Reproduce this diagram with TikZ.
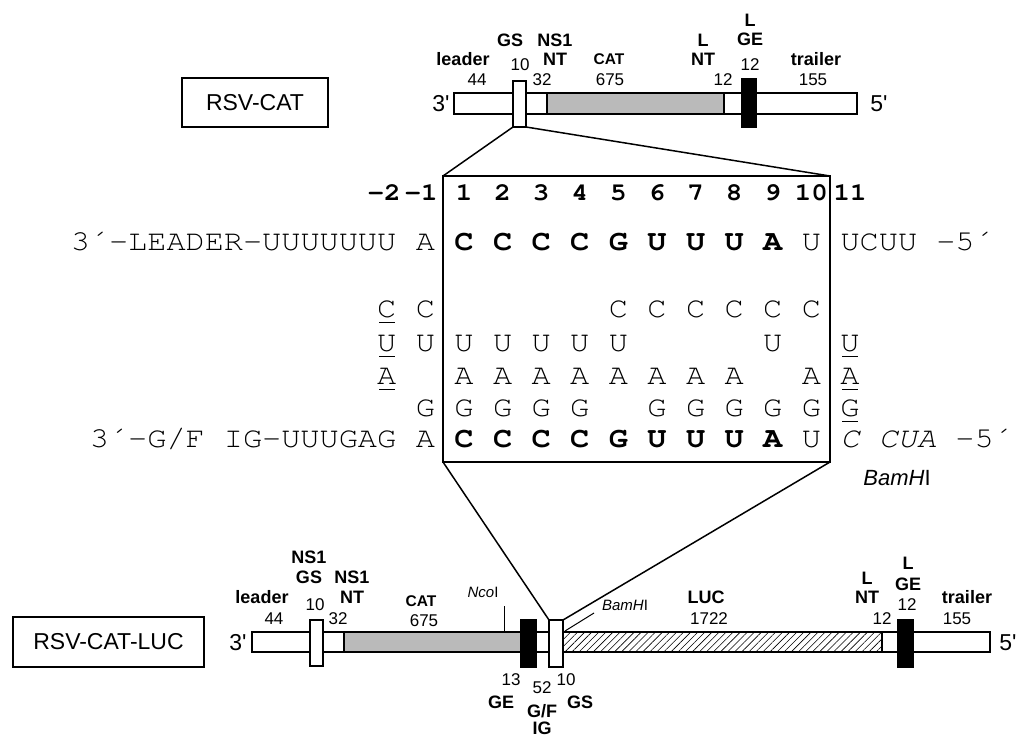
\documentclass[tikz,border=0pt]{standalone}
\usepackage{fontspec}
\setmainfont{Liberation Sans}[Ligatures=TeXOff]
\newfontfamily\seqf{TeX Gyre Cursor}[Ligatures=TeXOff, FakeStretch=1.1]
\usetikzlibrary{patterns.meta}
\tikzset{
 lab/.style={font=\bfseries\fontsize{18}{18}\selectfont, inner sep=0pt},
 labs/.style={font=\bfseries\fontsize{15.5}{16}\selectfont, inner sep=0pt},
 num/.style={font=\fontsize{17}{17}\selectfont, inner sep=0pt},
 primelab/.style={font=\fontsize{23}{23}\selectfont, inner sep=0pt},
 bigname/.style={draw, line width=1.2pt, font=\fontsize{23}{23}\selectfont, inner sep=0pt, outer sep=0pt},
 seqn/.style={font=\seqf\fontsize{29}{29}\selectfont, inner sep=0pt, text height=16.5pt, text depth=0pt},
 seqbold/.style={seqn, font=\seqf\bfseries\fontsize{29}{29}\selectfont},
 posn/.style={font=\seqf\bfseries\fontsize{25}{25}\selectfont, inner sep=0pt, text height=15pt, text depth=0pt},
 site/.style={font=\fontsize{15}{15}\selectfont, inner sep=0pt},
 bigsite/.style={font=\fontsize{22}{22}\selectfont, inner sep=0pt},
 bar/.style={draw, line width=1.1pt},
 gsbox/.style={draw, fill=white, line width=1.1pt, inner sep=0pt, outer sep=0pt},
 gebox/.style={draw, fill=black, line width=1.1pt, inner sep=0pt, outer sep=0pt},
 diag/.style={line width=1.5pt},
 uline/.style={line width=1.4pt},
 catfill/.style={fill=black!27},
 lucfill/.style={pattern={Lines[angle=45,distance=5pt,line width=0.6pt]}}
}
\begin{document}
\begin{tikzpicture}[x=1pt,y=-1pt]
\useasboundingbox (0,0) rectangle (1018,736);

% ---------------- top construct ----------------
\node[bigname, minimum width=146pt, minimum height=49pt] (rsvcat) at (255,102.5) {RSV-CAT};
\node[primelab] (t3) at (441,104) {3'};
\node[primelab] (t5) at (879,104) {5'};
\draw[bar] (454,93) rectangle (547,114);
\draw[bar, catfill] (547,93) rectangle (724,114);
\draw[bar] (724,93) rectangle (857,114);
\node[gsbox, minimum width=13pt, minimum height=46pt] (gsA) at (519.5,104) {};
\node[gebox, minimum width=14pt, minimum height=48pt] (geA) at (749,103) {};

\node[lab] (tleader) at (463,59) {leader};
\node[num] (t44) at (477,80) {44};
\node[lab] (tgs) at (510,40) {GS};
\node[num] (t10) at (520,65) {10};
\node[lab] (tns1) at (555,40) {NS1};
\node[lab] (tnt) at (555,59) {NT};
\node[num] (t32) at (542,80) {32};
\node[labs] (tcat) at (609,59) {CAT};
\node[num] (t675) at (610,80) {675};
\node[lab] (tl1) at (703,40) {L};
\node[lab] (tnt2) at (703,59) {NT};
\node[num] (t12a) at (723,80) {12};
\node[lab] (tl2) at (750,20) {L};
\node[lab] (tge) at (750,39) {GE};
\node[num] (t12b) at (750,65) {12};
\node[lab] (ttrailer) at (816,59) {trailer};
\node[num] (t155) at (813,80) {155};

% ---------------- sequence box ----------------
\node[draw, line width=1.4pt, minimum width=387pt, minimum height=286pt, inner sep=0pt, outer sep=0pt] (sbox) at (636.5,319) {};
\draw[diag] (gsA.south west) -- (sbox.north west);
\draw[diag] (gsA.south east) -- (sbox.north east);

% position numbers
\node[posn] (pm2) at (384,193) {-2};
\node[posn] (pm1) at (421,193) {-1};
\foreach \i in {1,...,11}
  \node[posn] (p\i) at ({464+(\i-1)*38.6},193) {\i};

% row 1
\node[seqn, anchor=east] (lead) at (396.4,242) {3´-LEADER-UUUUUUU};
\node[seqn] (r1m1) at (425.4,242) {A};
\foreach \b [count=\i] in {C,C,C,C,G,U,U,U,A}
  \node[seqbold] (r1b\i) at ({464+(\i-1)*38.6},242) {\b};
\node[seqn] (r1u10) at (811.4,242) {U};
\node[seqn, anchor=west] (r1end) at (840.4,242) {UCUU -5´};

% row C
\node[seqn] (rcm2) at (386.8,309) {C};
\node[seqn] (rcm1) at (425.4,309) {C};
\foreach \i in {5,...,10}
  \node[seqn] (rc\i) at ({464+(\i-1)*38.6},309) {C};
% row U
\node[seqn] (rum2) at (386.8,343) {U};
\node[seqn] (rum1) at (425.4,343) {U};
\foreach \i in {1,...,5,9}
  \node[seqn] (ru\i) at ({464+(\i-1)*38.6},343) {U};
\node[seqn] (ru11) at (850,343) {U};
% row A
\node[seqn] (ram2) at (386.8,376) {A};
\foreach \i in {1,...,8,10}
  \node[seqn] (ra\i) at ({464+(\i-1)*38.6},376) {A};
\node[seqn] (ra11) at (850,376) {A};
% row G
\node[seqn] (rgm1) at (425.4,408) {G};
\foreach \i in {1,2,3,4,6,7,8,9,10}
  \node[seqn] (rg\i) at ({464+(\i-1)*38.6},408) {G};
\node[seqn] (rg11) at (850,408) {G};

% underlines
\foreach \n in {rcm2,rum2,ram2,ru11,ra11,rg11}
  \draw[uline] ([xshift=2pt,yshift=-5pt]\n.south west) -- ([xshift=-2pt,yshift=-5pt]\n.south east);

% bottom row
\node[seqn, anchor=east] (gf) at (396.4,439) {3´-G/F IG-UUUGAG};
\node[seqn] (r2m1) at (425.4,439) {A};
\foreach \b [count=\i] in {C,C,C,C,G,U,U,U,A}
  \node[seqbold] (r2b\i) at ({464+(\i-1)*38.6},439) {\b};
\node[seqn] (r2u10) at (811.4,439) {U};
\node[seqn, anchor=west] (r2end) at (840.4,439) {{\itshape C CUA} -5´};
\node[bigsite] (bam1) at (897,478) {{\itshape BamH}I};

% ---------------- bottom construct ----------------
\node[bigname, minimum width=191pt, minimum height=50pt] (rsvluc) at (108.5,642) {RSV-CAT-LUC};
\node[primelab] (b3) at (238,643) {3'};
\node[primelab] (b5) at (1008,643) {5'};
\draw[bar] (252,632) rectangle (344,652);
\draw[bar, catfill] (344,632) rectangle (521,652);
\draw[bar] (521,632) rectangle (563,652);
\draw[bar, lucfill] (563,632) rectangle (882,652);
\draw[bar] (882,632) rectangle (990,652);
\node[gsbox, minimum width=13pt, minimum height=46pt] (gsN) at (316.5,643) {};
\node[gebox, minimum width=15pt, minimum height=47pt] (geB) at (528.5,643.5) {};
\node[gsbox, minimum width=14pt, minimum height=47pt] (gsB) at (556,643.5) {};
\node[gebox, minimum width=15pt, minimum height=47pt] (geL) at (905.5,643.5) {};

\draw[diag] (sbox.south west) -- (gsB.north west);
\draw[diag] (sbox.south east) -- (gsB.north east);

\coordinate (ncotop) at (504,606);
\coordinate (ncobot) at (504,632);
\draw[line width=1pt] (ncotop) -- (ncobot);
\node[site] (nco) at (483,592) {{\itshape Nco}I};
\coordinate (bamA) at (565,631);
\coordinate (bamB) at (594,613);
\draw[line width=1pt] (bamA) -- (bamB);
\node[site] (bam2) at (625,605) {{\itshape BamH}I};

\node[lab] (bns1a) at (309,557) {NS1};
\node[lab] (bgs) at (309,577) {GS};
\node[num] (b10a) at (315,605) {10};
\node[lab] (bleader) at (262,597) {leader};
\node[num] (b44) at (274,619) {44};
\node[lab] (bns1b) at (352,577) {NS1};
\node[lab] (bnt) at (352,597) {NT};
\node[num] (b32) at (338,619) {32};
\node[labs] (bcat) at (421,601) {CAT};
\node[num] (b675) at (424,621) {675};
\node[lab] (bluc) at (706,597) {LUC};
\node[num] (b1722) at (709,619) {1722};
\node[lab] (bl1) at (867,578) {L};
\node[lab] (bnt2) at (867,597) {NT};
\node[num] (b12a) at (882,619) {12};
\node[lab] (bl2) at (908,563) {L};
\node[lab] (bge) at (908,584) {GE};
\node[num] (b12b) at (907,605) {12};
\node[lab] (btrailer) at (967,597) {trailer};
\node[num] (b155) at (957,619) {155};

\node[num] (b13) at (511,680) {13};
\node[lab] (bge2) at (501,702) {GE};
\node[num] (b52) at (542,688) {52};
\node[lab] (bgf) at (542,711) {G/F};
\node[lab] (big) at (542,728) {IG};
\node[num] (b10b) at (566,680) {10};
\node[lab] (bgs2) at (580,702) {GS};
\end{tikzpicture}
\end{document}
